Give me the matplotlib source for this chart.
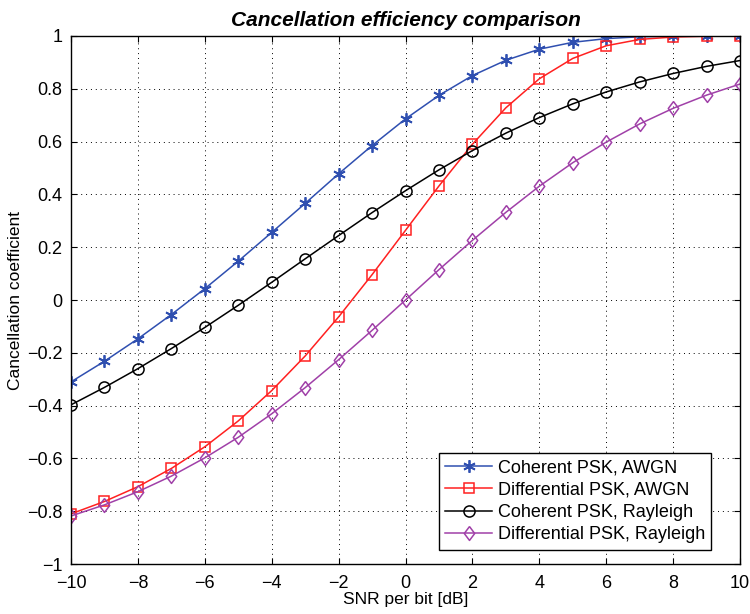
import numpy as np
import matplotlib
matplotlib.use("Agg")
import matplotlib.pyplot as plt

plt.rcParams['font.family'] = ['Liberation Sans', 'DejaVu Sans']

# SNR per bit in dB
snr_db = list(range(-10, 11))

coh_awgn = [-0.310, -0.232, -0.147, -0.055, 0.043, 0.147, 0.256, 0.366, 0.478, 0.585,
            0.686, 0.775, 0.850, 0.908, 0.950, 0.976, 0.990, 0.997, 0.999, 1.000, 1.000]
diff_awgn = [-0.810, -0.763, -0.707, -0.638, -0.556, -0.458, -0.343, -0.212, -0.064, 0.096,
             0.264, 0.432, 0.590, 0.728, 0.838, 0.915, 0.963, 0.987, 0.996, 0.999, 1.000]
coh_rayl = [-0.397, -0.331, -0.260, -0.184, -0.104, -0.020, 0.067, 0.156, 0.244, 0.331,
            0.414, 0.493, 0.566, 0.632, 0.691, 0.743, 0.788, 0.826, 0.858, 0.885, 0.907]
diff_rayl = [-0.818, -0.776, -0.726, -0.667, -0.598, -0.520, -0.431, -0.332, -0.226, -0.115,
             0.000, 0.115, 0.226, 0.332, 0.431, 0.520, 0.598, 0.667, 0.726, 0.776, 0.818]

labels = ['Coherent PSK, AWGN', 'Differential PSK, AWGN',
          'Coherent PSK, Rayleigh', 'Differential PSK, Rayleigh']

# diamond a bit taller than wide
diamond = [(0, 1), (0.75, 0), (0, -1), (-0.75, 0), (0, 1)]

fig = plt.figure(figsize=(7.5, 6.14), dpi=100)
ax = fig.add_axes([0.0947, 0.0814, 0.892, 0.86])

ax.plot(snr_db, coh_awgn, color='#2f4fb0', marker=(6, 2, 0), markersize=9, mew=1.3, lw=1.1, label=labels[0])
ax.plot(snr_db, diff_awgn, color='#ff2020', marker='s', markersize=7, mfc='none', mew=1.1, lw=1.1, label=labels[1])
ax.plot(snr_db, coh_rayl, color='black', marker='o', markersize=8, mfc='none', mew=1.1, lw=1.1, label=labels[2])
ax.plot(snr_db, diff_rayl, color='#a040a8', marker=diamond, markersize=10, mfc='none', mew=1.1, lw=1.1, label=labels[3])

ax.set_xlim(-10, 10)
ax.set_ylim(-1, 1)
ax.set_xticks(np.arange(-10, 11, 2))
ax.set_yticks(np.arange(-1, 1.01, 0.2))
ax.set_yticklabels(['\u22121', '\u22120.8', '\u22120.6', '\u22120.4', '\u22120.2', '0',
                    '0.2', '0.4', '0.6', '0.8', '1'])
ax.tick_params(direction='in', top=True, right=True, labelsize=13, length=4)
ax.tick_params(axis='x', pad=8)
ax.tick_params(axis='y', pad=6)
ax.grid(True, linestyle=(0, (1, 4)), color='black', lw=0.7)
for sp in ax.spines.values():
    sp.set_linewidth(1.0)

ax.set_xlabel('SNR per bit [dB]', fontsize=12.5, labelpad=0)
ax.set_ylabel('Cancellation coefficient', fontsize=12.5, labelpad=3)
ax.set_title('Cancellation efficiency comparison', fontsize=15, fontweight='bold',
             fontstyle='italic', pad=7)

leg = ax.legend(loc='lower right', bbox_to_anchor=(0.957, 0.027), fontsize=13,
                fancybox=False, framealpha=1, edgecolor='black', borderpad=0.35,
                labelspacing=0.3, handlelength=2.6, handletextpad=0.3, borderaxespad=0)
leg.get_frame().set_linewidth(1.0)

fig.savefig('out.png', dpi=100)
